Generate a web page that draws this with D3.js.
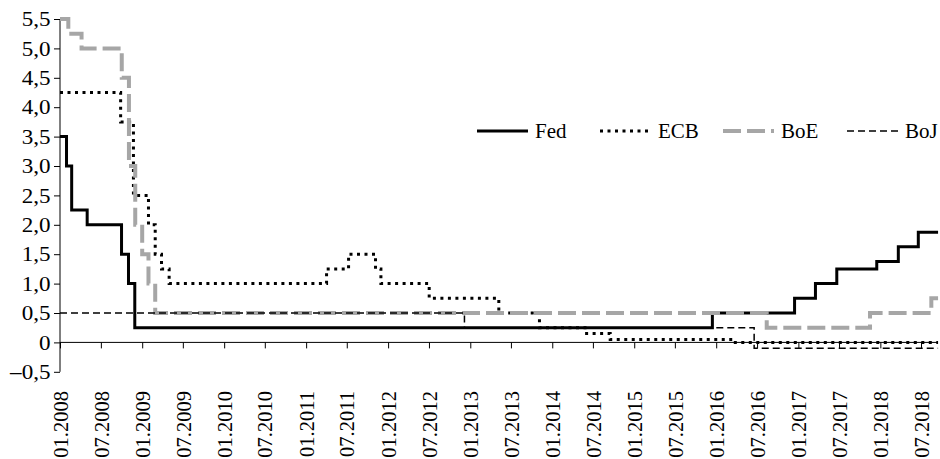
<!DOCTYPE html>
<html>
<head>
<meta charset="utf-8">
<script src="https://cdn.jsdelivr.net/npm/d3@7"></script>
<style>
  body { margin: 0; background: #fff; }
  svg { display: block; }
</style>
</head>
<body>
<svg id="chart" width="940" height="459"></svg>
<script>
// policy rates, step changes: [date, rate]
var fedSteps = [
  ["2008-01-01", 3.5], ["2008-01-30", 3.0], ["2008-02-22", 2.25], ["2008-05-01", 2.0],
  ["2008-10-01", 1.5], ["2008-11-01", 1.0], ["2008-11-29", 0.25], ["2015-12-15", 0.5],
  ["2016-12-15", 0.75], ["2017-03-18", 1.0], ["2017-06-21", 1.25], ["2017-12-16", 1.375],
  ["2018-03-22", 1.625], ["2018-06-19", 1.875], ["2018-09-15", 1.875]
];
var ecbSteps = [
  ["2008-01-01", 4.25], ["2008-09-27", 3.75], ["2008-11-23", 2.5], ["2009-01-29", 2.0],
  ["2009-02-28", 1.5], ["2009-03-28", 1.25], ["2009-05-01", 1.0], ["2011-04-02", 1.25],
  ["2011-07-09", 1.5], ["2011-11-06", 1.25], ["2011-11-30", 1.0], ["2012-07-02", 0.75],
  ["2013-05-08", 0.5], ["2013-11-05", 0.25], ["2014-06-03", 0.15], ["2014-09-16", 0.05],
  ["2016-03-16", 0.0], ["2018-09-15", 0.0]
];
var boeSteps = [
  ["2008-01-01", 5.5], ["2008-02-07", 5.25], ["2008-04-06", 5.0], ["2008-10-02", 4.5],
  ["2008-11-03", 3.0], ["2008-12-01", 2.0], ["2009-01-01", 1.5], ["2009-01-29", 1.0],
  ["2009-02-28", 0.5], ["2016-08-13", 0.25], ["2017-11-16", 0.5], ["2018-08-16", 0.75],
  ["2018-09-15", 0.75]
];
var bojSteps = [
  ["2008-01-01", 0.5], ["2012-12-06", 0.25], ["2016-06-18", -0.1], ["2018-09-15", -0.1]
];

var seriesNames = ["Fed", "ECB", "BoE", "BoJ"];
var yTicks = [-0.5, 0, 0.5, 1, 1.5, 2, 2.5, 3, 3.5, 4, 4.5, 5, 5.5];
var xTickDates = ["01.2008", "07.2008", "01.2009", "07.2009", "01.2010", "07.2010",
  "01.2011", "07.2011", "01.2012", "07.2012", "01.2013", "07.2013", "01.2014", "07.2014",
  "01.2015", "07.2015", "01.2016", "07.2016", "01.2017", "07.2017", "01.2018", "07.2018"];

var parse = d3.timeParse("%Y-%m-%d");
var parseTick = d3.timeParse("%m.%Y");

var svg = d3.select("#chart");
var font = "'Liberation Serif', 'Times New Roman', serif";

var x = d3.scaleTime()
  .domain([parseTick("01.2008"), parseTick("07.2018")])
  .range([60, 921]);
var y = d3.scaleLinear()
  .domain([-0.5, 5.5])
  .range([371.8, 19]);

// styles per series
var styles = [
  { color: "#000", width: 3, dash: null },
  { color: "#000", width: 3, dash: "3,4.5" },
  { color: "#a6a6a6", width: 4, dash: "18,6" },
  { color: "#000", width: 1.5, dash: "7,4" }
];
var allData = [fedSteps, ecbSteps, boeSteps, bojSteps];

// y axis
var yAxis = svg.append("g")
  .attr("transform", "translate(60,0)")
  .call(d3.axisLeft(y).tickValues(yTicks).tickSize(6).tickPadding(4)
    .tickFormat(function (d) {
      if (d === 0) return "0";
      var s = d3.format(".1f")(Math.abs(d)).replace(".", ",");
      return d < 0 ? "\u2013" + s : s;
    }));
yAxis.select(".domain").attr("d", "M0," + y(5.5) + "V" + y(-0.5)).attr("stroke", "#000");
yAxis.selectAll("text")
  .style("font-family", font)
  .style("font-size", "21px")
  .attr("fill", "#000")
  .attr("x", 0)
  .attr("transform", "translate(-9.5,0) scale(1.1,1)");

// x axis at zero
var xAxis = svg.append("g")
  .attr("transform", "translate(0," + y(0) + ")")
  .call(d3.axisBottom(x).tickValues(xTickDates.map(parseTick)).tickSize(6)
    .tickFormat(d3.timeFormat("%m.%Y")));
xAxis.select(".domain").attr("d", "M60,0H938").attr("stroke", "#000");
xAxis.selectAll("text")
  .style("font-family", font)
  .style("font-size", "20.5px")
  .attr("fill", "#000")
  .attr("text-anchor", "end")
  .attr("transform", "translate(0," + (391 - y(0)) + ") rotate(-90)")
  .attr("x", 0)
  .attr("y", 0)
  .attr("dy", "0.35em");

// lines
var line = d3.line()
  .x(function (d) { return x(parse(d[0])); })
  .y(function (d) { return y(d[1]); })
  .curve(d3.curveStepAfter);

allData.forEach(function (data, i) {
  svg.append("path")
    .datum(data)
    .attr("fill", "none")
    .attr("stroke", styles[i].color)
    .attr("stroke-width", styles[i].width)
    .attr("stroke-dasharray", styles[i].dash)
    .attr("d", line);
});

// legend
var legendX = [477, 600, 723, 847];
var legend = svg.selectAll(".legend")
  .data(seriesNames)
  .enter()
  .append("g")
  .attr("class", "legend")
  .attr("transform", function (d, i) { return "translate(" + legendX[i] + ",131)"; });

legend.append("line")
  .attr("x1", 0)
  .attr("x2", 51)
  .attr("stroke", function (d, i) { return styles[i].color; })
  .attr("stroke-width", function (d, i) { return styles[i].width; })
  .attr("stroke-dasharray", function (d, i) { return styles[i].dash; });

legend.append("text")
  .attr("x", 58)
  .attr("dy", "0.35em")
  .style("font-family", font)
  .style("font-size", "21px")
  .text(function (d) { return d; });
</script>
</body>
</html>
